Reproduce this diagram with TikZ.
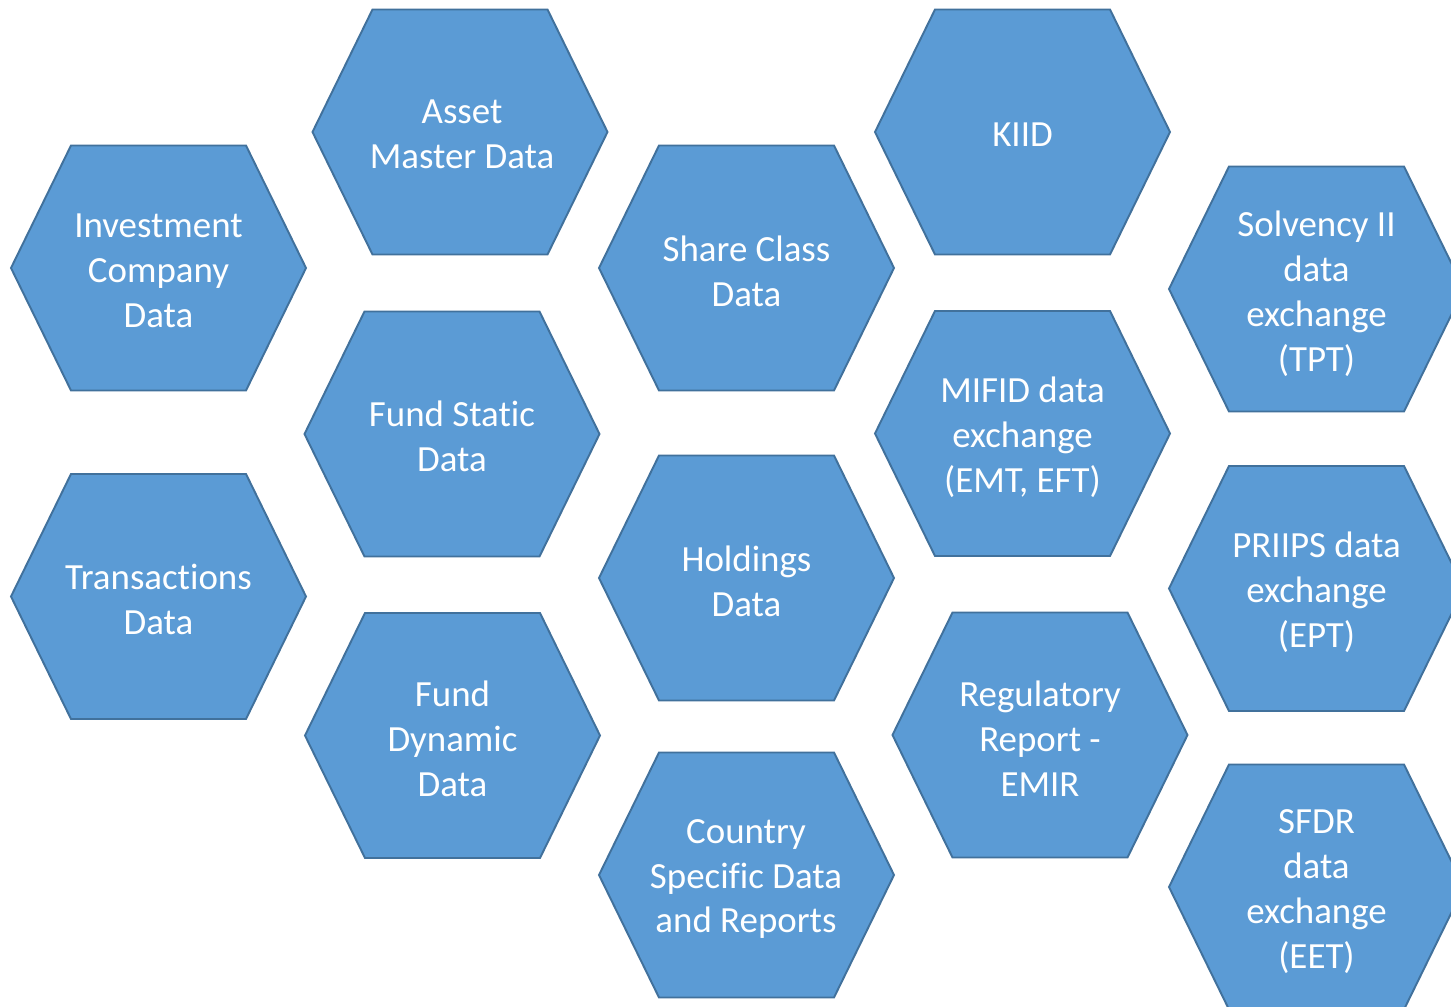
\documentclass[tikz,border=0pt]{standalone}
\usepackage{fontspec}
\setmainfont{Carlito}[Ligatures={NoCommon}]
\definecolor{hexfill}{HTML}{5B9BD5}
\definecolor{hexline}{HTML}{41719C}
\tikzset{
  hexagon/.pic={
    \path[fill=hexfill,draw=hexline,line width=1.1pt,line join=miter]
      (-147.5,0) -- (-87.5,-122.5) -- (87.5,-122.5) -- (147.5,0)
      -- (87.5,122.5) -- (-87.5,122.5) -- cycle;
  },
  hextext/.style={text=white,align=center,font=\fontsize{21}{25.6}\selectfont,inner sep=0pt}
}
\begin{document}
\begin{tikzpicture}[x=0.02cm,y=-0.02cm]
\useasboundingbox (0,0) rectangle (1451,1007);
\clip (0,0) rectangle (1451,1007);
\fill[white] (0,0) rectangle (1451,1007);
% hexagon shapes
\foreach \cx/\cy in {158.5/268, 460/132, 452/434, 158.5/596.5, 452.5/735.5,
  746.5/268, 746.5/578, 746.5/875, 1022.5/132, 1022.5/433.5, 1040/735,
  1316.5/289, 1316.5/588.5, 1316.5/887}
  \pic at (\cx,\cy) {hexagon};
% labels
\node[hextext] (inv) at (158.5,270.5) {Investment\\Company\\Data};
\node[hextext] (asset) at (462,134) {Asset\\Master Data};
\node[hextext] (static) at (452,436) {Fund Static\\Data};
\node[hextext] (trans) at (158.5,599.5) {Transactions\\Data};
\node[hextext] (dyn) at (452.5,739) {Fund\\Dynamic\\Data};
\node[hextext] (share) at (746.5,271.5) {Share Class\\Data};
\node[hextext] (hold) at (746.5,581.5) {Holdings\\Data};
\node[hextext] (country) at (746,879) {Country\\Specific Data\\and Reports};
\node[hextext] (kiid) at (1022.5,135) {KIID};
\node[hextext] (mifid) at (1022.5,437) {MIFID data\\exchange\\(EMT, EFT)};
\node[hextext] (emir) at (1040,739) {Regulatory\\Report -\\EMIR};
\node[hextext] (solv) at (1316.5,293.5) {Solvency II\\data\\exchange\\(TPT)};
\node[hextext] (priips) at (1316.5,592) {PRIIPS data\\exchange\\(EPT)};
\node[hextext] (sfdr) at (1316.5,892) {SFDR\\data\\exchange\\(EET)};
\end{tikzpicture}
\end{document}
